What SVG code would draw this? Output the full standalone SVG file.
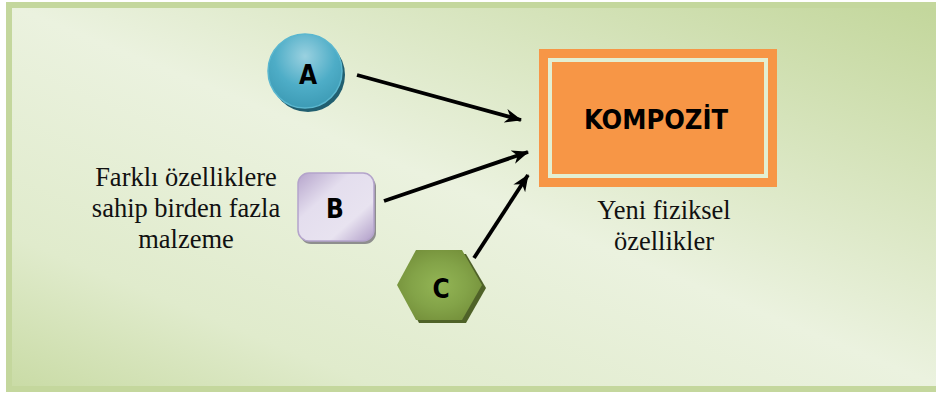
<svg xmlns="http://www.w3.org/2000/svg" width="936" height="396" viewBox="0 0 936 396">
  <defs>
    <linearGradient id="bg" x1="1" y1="0" x2="0" y2="1">
      <stop offset="0" stop-color="#c2d69a"/>
      <stop offset="0.5" stop-color="#ebf2df"/>
      <stop offset="0.8" stop-color="#e0ebcc"/>
      <stop offset="1" stop-color="#c9dba5"/>
    </linearGradient>
    <radialGradient id="tealFill" cx="0.5" cy="0.3" r="0.75">
      <stop offset="0" stop-color="#9ad1e0"/>
      <stop offset="0.55" stop-color="#4eadc7"/>
      <stop offset="1" stop-color="#3a98b2"/>
    </radialGradient>
    <linearGradient id="lavFill" x1="0" y1="0" x2="1" y2="1">
      <stop offset="0" stop-color="#b6a5cc"/>
      <stop offset="0.35" stop-color="#e4deee"/>
      <stop offset="0.7" stop-color="#e8e3f0"/>
      <stop offset="1" stop-color="#b09dc8"/>
    </linearGradient>
    <radialGradient id="oliveFill" cx="0.5" cy="0.5" r="0.55">
      <stop offset="0" stop-color="#93b555"/>
      <stop offset="0.6" stop-color="#83a348"/>
      <stop offset="1" stop-color="#76923c"/>
    </radialGradient>
    <marker id="head" markerUnits="userSpaceOnUse" markerWidth="18" markerHeight="14" refX="16" refY="7" orient="auto">
      <path d="M0,0 L17,7 L0,14 L5,7 Z" fill="#000"/>
    </marker>
    <style>
      .node-label { font-family: "DejaVu Sans Condensed", "DejaVu Sans", sans-serif; font-weight: bold; font-size: 26px; fill: #000; text-anchor: middle; }
      .caption { font-family: "Liberation Serif", "Times New Roman", serif; font-size: 26.5px; fill: #111; text-anchor: middle; }
      .link { stroke: #000; stroke-width: 3.8; fill: none; marker-end: url(#head); }
    </style>
  </defs>

  <!-- panel background -->
  <rect x="9" y="5" width="940" height="384" fill="url(#bg)" stroke="#c4d79d" stroke-width="6"/>

  <!-- connectors -->
  <g id="connectors">
    <line class="link" x1="357" y1="75" x2="521" y2="120"/>
    <line class="link" x1="384" y1="201" x2="528" y2="152"/>
    <line class="link" x1="474" y1="258" x2="528" y2="175"/>
  </g>

  <g id="node-a">
    <circle cx="308" cy="75" r="37" fill="#215f70"/>
    <circle cx="305" cy="71" r="37" fill="url(#tealFill)" stroke="#5bb7cf" stroke-width="1.5"/>
    <text class="node-label" x="308" y="84">A</text>
  </g>

  <g id="node-b">
    <rect x="300" y="176" width="76" height="68" rx="11" fill="#8e8e8e"/>
    <rect x="298" y="173" width="76" height="68" rx="11" fill="url(#lavFill)" stroke="#b4a4cb" stroke-width="1.5"/>
    <text class="node-label" x="335" y="218">B</text>
  </g>

  <g id="node-c">
    <polygon points="419,254 466,254 486,288 466,323 419,323 401,288" fill="#4f6228"/>
    <polygon points="416,250 462,250 482,285 462,320 416,320 397,285" fill="url(#oliveFill)"/>
    <text class="node-label" x="441" y="298">C</text>
  </g>

  <g id="node-kompozit">
    <rect x="539" y="49" width="238" height="138" fill="#f79646"/>
    <rect x="550" y="60" width="216" height="116" fill="#f79646" stroke="#e3efd2" stroke-width="4"/>
    <text x="656" y="129" font-family="'DejaVu Sans Condensed', 'DejaVu Sans', sans-serif" font-weight="bold" font-size="27" fill="#000" text-anchor="middle">KOMPOZİT</text>
  </g>

  <g id="label-left">
    <text class="caption" x="186" y="186">Farklı özelliklere</text>
    <text class="caption" x="186" y="217">sahip birden fazla</text>
    <text class="caption" x="186" y="248">malzeme</text>
  </g>

  <g id="label-right">
    <text class="caption" x="664" y="219">Yeni fiziksel</text>
    <text class="caption" x="664" y="250">özellikler</text>
  </g>
</svg>
